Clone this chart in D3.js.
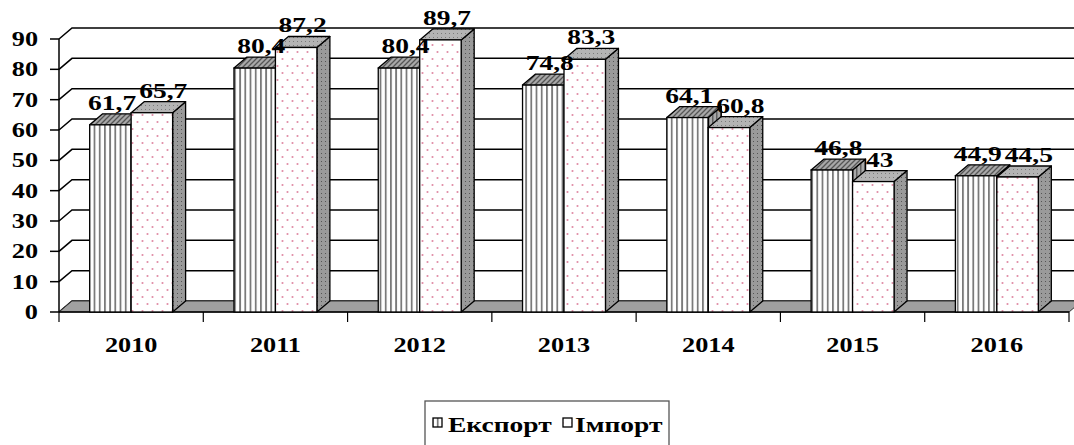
<!DOCTYPE html>
<html><head><meta charset="utf-8">
<script src="https://cdn.jsdelivr.net/npm/d3@7"></script>
<style>
html,body{margin:0;padding:0;background:#fff;}
svg{display:block;}
text{font-family:"Liberation Serif","Times New Roman",Times,serif;font-weight:bold;fill:#000;}
</style></head>
<body>
<svg id="chart" width="1074" height="445"></svg>
<script>
const years = ["2010","2011","2012","2013","2014","2015","2016"];
const seriesNames = ["Експорт","Імпорт"];
const exportValues = [61.7, 80.4, 80.4, 74.8, 64.1, 46.8, 44.9];
const importValues = [65.7, 87.2, 89.7, 83.3, 60.8, 43, 44.5];
const yTicks = [0,10,20,30,40,50,60,70,80,90];

const svg = d3.select("#chart");
const W = 1074, H = 445;
const DX = 13, DY = -11;
const SX = 1.25; // horizontal text stretch
const fmt = v => String(v).replace(".", ",");

const x0 = d3.scaleBand().domain(years).range([59, 1069]).padding(0);
const x1 = d3.scaleBand().domain(seriesNames).range([0, x0.bandwidth()]).paddingInner(0).paddingOuter(0.74);
const y = d3.scaleLinear().domain([0, 90]).range([312, 39]);

// patterns
const defs = svg.append("defs");
function pat(id, w, h, bg, draw){
  const p = defs.append("pattern").attr("id", id).attr("patternUnits","userSpaceOnUse").attr("width", w).attr("height", h);
  p.append("rect").attr("width", w).attr("height", h).attr("fill", bg);
  draw(p);
}
pat("expFront", 5.2, 10, "#fff", p => p.append("rect").attr("x",0).attr("width",1.8).attr("height",10).attr("fill","#7a7a7a"));
pat("expSide", 4, 10, "#a8a8a8", p => p.append("rect").attr("x",0).attr("width",1.5).attr("height",10).attr("fill","#606060"));
pat("expTop", 5, 5, "#a8a8a8", p => p.append("path").attr("d","M-1,6 L6,-1 M-1,1 L1,-1 M4,6 L6,4").attr("stroke","#555").attr("stroke-width",1.3));
pat("impFront", 10, 14, "#fff", p => {
  p.append("circle").attr("cx",2.5).attr("cy",3).attr("r",1.05).attr("fill","#e08aa4");
  p.append("circle").attr("cx",7.5).attr("cy",10).attr("r",1.05).attr("fill","#e08aa4");
});
pat("impTop", 4, 4, "#b4b4b4", p => p.append("rect").attr("x",1).attr("y",1).attr("width",1).attr("height",1).attr("fill","#7a7a7a"));
pat("impSide", 4, 4, "#9a9a9a", p => p.append("rect").attr("x",1).attr("y",1).attr("width",1).attr("height",1).attr("fill","#555"));

// back wall gridlines
const g = svg.append("g");
yTicks.forEach(t => {
  g.append("path")
    .attr("d", `M${59},${y(t)} L${59+DX},${y(t)+DY} L${W+5},${y(t)+DY}`)
    .attr("fill","none").attr("stroke","#000").attr("stroke-width",1.5);
});

// floor
g.append("path")
  .attr("d", `M59,${y(0)} L1069,${y(0)} L${1069+DX},${y(0)+DY} L${59+DX},${y(0)+DY} Z`)
  .attr("fill","#a0a0a0").attr("stroke","#333").attr("stroke-width",1);

// y axis front line and ticks
g.append("line").attr("x1",59).attr("x2",59).attr("y1",y(90)).attr("y2",y(0)).attr("stroke","#000").attr("stroke-width",1.5);
yTicks.forEach(t => {
  g.append("line").attr("x1",50).attr("x2",59).attr("y1",y(t)).attr("y2",y(t)).attr("stroke","#000").attr("stroke-width",1.5);
  g.append("text").attr("transform",`translate(38,${y(t)+7}) scale(${SX},1)`)
    .attr("text-anchor","end").style("font-size","21px").text(t);
});

// x axis
g.append("line").attr("x1",59).attr("x2",1069).attr("y1",y(0)).attr("y2",y(0)).attr("stroke","#000").attr("stroke-width",1.5);
years.concat(["end"]).forEach((yr,i) => {
  const xx = 59 + i*x0.bandwidth();
  g.append("line").attr("x1",xx).attr("x2",xx).attr("y1",y(0)).attr("y2",y(0)+10).attr("stroke","#000").attr("stroke-width",1.2);
});
years.forEach(yr => {
  g.append("text").attr("transform",`translate(${x0(yr)+x0.bandwidth()/2},352) scale(${SX},1)`)
    .attr("text-anchor","middle").style("font-size","21px").text(yr);
});

// bars
const bars = svg.append("g");
const styles = {
  "Експорт": {front:"url(#expFront)", top:"url(#expTop)", side:"url(#expSide)"},
  "Імпорт": {front:"url(#impFront)", top:"url(#impTop)", side:"url(#impSide)"}
};
const lg = svg.append("g");
years.forEach((yr,i) => {
  const pair = [];
  [["Експорт", exportValues[i]], ["Імпорт", importValues[i]]].forEach(([s,v]) => {
    const xl = x0(yr) + x1(s), xr = xl + x1.bandwidth();
    const yt = y(v), yb = y(0);
    const st = styles[s];
    bars.append("path").attr("d",`M${xr},${yb} L${xr+DX},${yb+DY} L${xr+DX},${yt+DY} L${xr},${yt} Z`)
      .attr("fill",st.side).attr("stroke","#000").attr("stroke-width",1.3).attr("stroke-linejoin","round");
    bars.append("path").attr("d",`M${xl},${yt} L${xl+DX},${yt+DY} L${xr+DX},${yt+DY} L${xr},${yt} Z`)
      .attr("fill",st.top).attr("stroke","#000").attr("stroke-width",1.3).attr("stroke-linejoin","round");
    bars.append("rect").attr("x",xl).attr("y",yt).attr("width",xr-xl).attr("height",yb-yt)
      .attr("fill",st.front).attr("stroke","#000").attr("stroke-width",1.3);
    const t = lg.append("text").attr("text-anchor","middle").style("font-size","22px").text(fmt(v));
    const w = t.node().getComputedTextLength() * SX;
    pair.push({node:t, x:(xl+xr)/2 + DX/2, y: yt + DY - 4, w});
  });
  // push overlapping labels apart
  const [a,b] = pair;
  const overlap = (a.x + a.w/2) - (b.x - b.w/2) + 3;
  if (Math.abs(a.y - b.y) < 18 && overlap > 0) { a.x -= overlap/2; b.x += overlap/2; }
  pair.forEach(p => p.node.attr("transform",`translate(${p.x},${p.y}) scale(${SX},1)`));
});

// legend
const leg = svg.append("g");
leg.append("rect").attr("x",425).attr("y",401).attr("width",244).attr("height",60)
  .attr("fill","#fff").attr("stroke","#555").attr("stroke-width",1.3);
const legItems = [
  {name: seriesNames[0], fill:"url(#expFront)", bx:433, tx:448},
  {name: seriesNames[1], fill:"url(#impFront)", bx:563, tx:575}
];
legItems.forEach(it => {
  leg.append("rect").attr("x",it.bx).attr("y",418).attr("width",9).attr("height",9)
    .attr("fill",it.fill).attr("stroke","#000").attr("stroke-width",1.3);
  leg.append("text").attr("transform",`translate(${it.tx},432) scale(${SX},1)`)
    .style("font-size","22px").text(it.name);
});
</script>
</body></html>
